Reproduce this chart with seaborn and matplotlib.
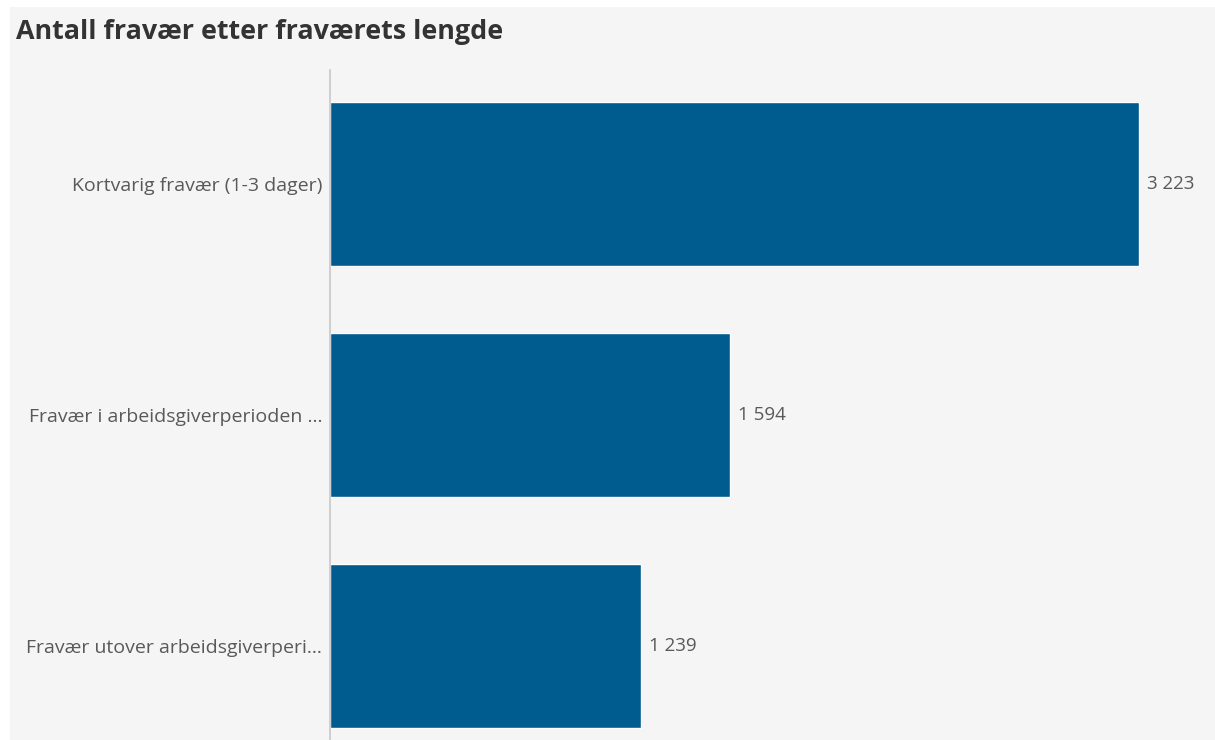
import matplotlib
matplotlib.use("Agg")
import matplotlib.pyplot as plt
import seaborn as sns
import pandas as pd
from matplotlib.patches import Rectangle

categories = ["Kortvarig fravær (1-3 dager)",
              "Fravær i arbeidsgiverperioden ...",
              "Fravær utover arbeidsgiverperi..."]
values = [3223, 1594, 1239]
value_labels = ["3 223", "1 594", "1 239"]

df = pd.DataFrame({"kategori": categories, "antall": values})

sns.set_theme(style="white")
plt.rcParams["font.family"] = ["Open Sans", "DejaVu Sans"]

W, H = 1215, 740
fig = plt.figure(figsize=(W / 100, H / 100), dpi=100, facecolor="white")
bg = "#f5f5f5"
fig.patches.append(Rectangle((10 / W, 0), 1 - 10 / W, 1 - 7 / H,
                             transform=fig.transFigure, facecolor=bg,
                             edgecolor="none", zorder=-10))

ax = fig.add_axes([330 / W, 0, 880 / W, (740 - 70) / H])
ax.set_facecolor(bg)
sns.barplot(data=df, x="antall", y="kategori", orient="h", color="#005b8f",
            saturation=1, width=0.71, ax=ax)
ax.set_xlim(0, 880 / 0.251)
ax.set_ylim(2.405, -0.495)
for s in ["top", "right", "bottom"]:
    ax.spines[s].set_visible(False)
ax.spines["left"].set_color("#c8c8c8")
ax.spines["left"].set_linewidth(1.2)
ax.set_xticks([])
ax.set_xlabel("")
ax.set_ylabel("")
ax.tick_params(axis="y", length=0, pad=5.5, labelsize=14, labelcolor="#595959")

for i, (v, lab) in enumerate(zip(values, value_labels)):
    ax.annotate(lab, (v, i), xytext=(6, 0), textcoords="offset points",
                va="center", ha="left", fontsize=13.5, color="#595959")

fig.text(16 / W, 1 - 32 / H, "Antall fravær etter fraværets lengde",
         fontsize=19.4, fontweight="bold", color="#333333",
         ha="left", va="center")

fig.savefig("out.png", dpi=100, facecolor="white")
